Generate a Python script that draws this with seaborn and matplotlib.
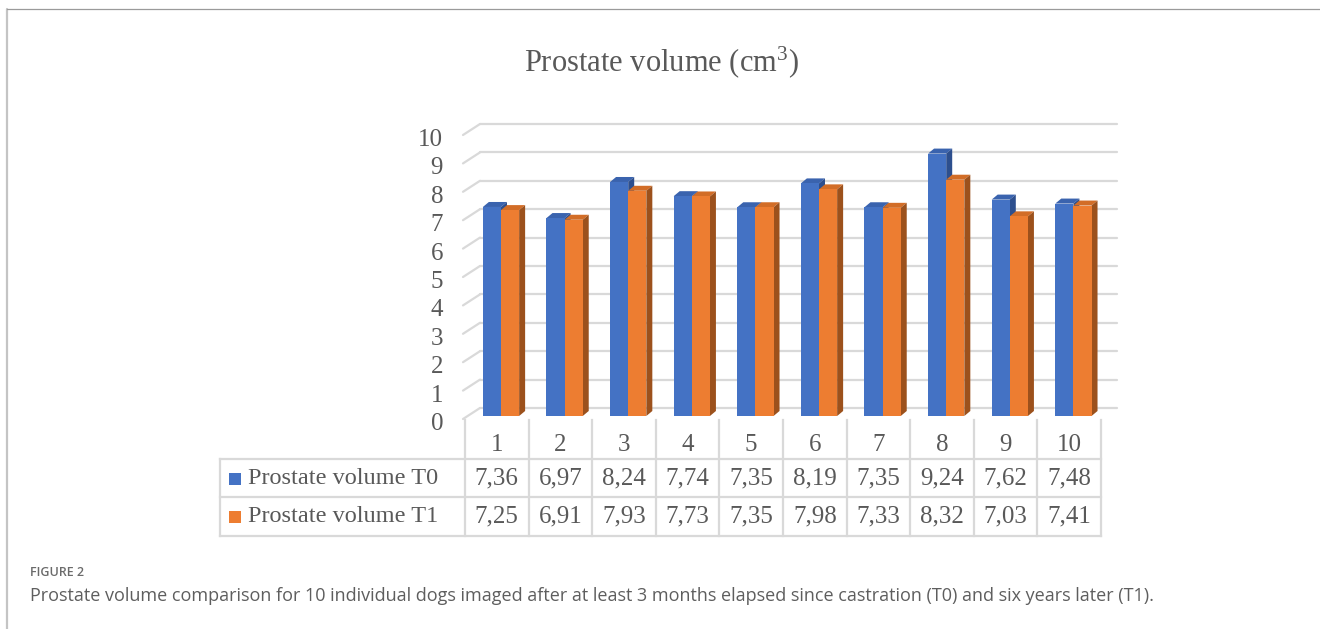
import matplotlib
matplotlib.use("Agg")
import matplotlib.pyplot as plt
import matplotlib.transforms as mtransforms
from matplotlib.lines import Line2D
from matplotlib.patches import Polygon, Rectangle
import seaborn as sns
import pandas as pd

# ---- data ---------------------------------------------------------------
dogs = ["1", "2", "3", "4", "5", "6", "7", "8", "9", "10"]
volume_t0 = [7.36, 6.97, 8.24, 7.74, 7.35, 8.19, 7.35, 9.24, 7.62, 7.48]
volume_t1 = [7.25, 6.91, 7.93, 7.73, 7.35, 7.98, 7.33, 8.32, 7.03, 7.41]
series_names = ["Prostate volume T0", "Prostate volume T1"]
y_ticks = [0, 1, 2, 3, 4, 5, 6, 7, 8, 9, 10]
title = "Prostate volume (cm$^{3}$)"
fig_label = "FIGURE 2"
caption = ("Prostate volume comparison for 10 individual dogs imaged after at least "
           "3 months elapsed since castration (T0) and six years later (T1).")

# ---- style --------------------------------------------------------------
sns.set_theme(style="white")
plt.rcParams["font.family"] = ["Liberation Serif", "DejaVu Serif"]
plt.rcParams["mathtext.fontset"] = "custom"
plt.rcParams["mathtext.rm"] = "Liberation Serif"
plt.rcParams["mathtext.it"] = "Liberation Serif:italic"
plt.rcParams["mathtext.bf"] = "Liberation Serif:bold"

W, H, DPI = 1320, 629, 100
TEXT = "#595959"
GRID = "#D9D9D9"
front_colors = ["#4472C4", "#ED7D31"]
top_colors = ["#3A63AE", "#D26D27"]
side_colors = ["#2D4F8E", "#9C511C"]
FS = 17.5


def fx(px):
    return px / W


def fy(py):
    return 1 - py / H


fig = plt.figure(figsize=(W / DPI, H / DPI), dpi=DPI)


def px_shift(dx, dy):
    # translation in pixels (dy positive = upward on screen)
    return mtransforms.ScaledTranslation(dx / DPI, dy / DPI, fig.dpi_scale_trans)


# ---- bar axes (front plane of the columns) ------------------------------
ax_left, ax_right = 469.2, 1105.2
ax_bottom, ax_top = 416, 132
ax = fig.add_axes([fx(ax_left), fy(ax_bottom), fx(ax_right - ax_left),
                   (ax_bottom - ax_top) / H])

df = pd.DataFrame({
    "dog": dogs * 2,
    "volume": volume_t0 + volume_t1,
    "series": [series_names[0]] * len(dogs) + [series_names[1]] * len(dogs),
})
sns.barplot(data=df, x="dog", y="volume", hue="series", order=dogs,
            hue_order=series_names, palette=front_colors, saturation=1,
            width=0.57, gap=0, legend=False, ax=ax, zorder=5,
            linewidth=0, edgecolor="none")

ax.set_xlim(-0.5, len(dogs) - 0.5)
ax.set_ylim(0, 10)
ax.set_xlabel("")
ax.set_ylabel("")
ax.set_xticks([])
ax.set_yticks([])
for s in ax.spines.values():
    s.set_visible(False)
ax.patch.set_alpha(0)

# pixel -> data unit factors for the 3-D faces
x_per_px = (len(dogs)) / (ax_right - ax_left)
y_per_px = 10 / (ax_bottom - ax_top)
depth_dx, depth_dy = 6 * x_per_px, 5 * y_per_px

# side and top faces of each column
n = len(dogs)
for k, patch in enumerate(ax.patches[: 2 * n]):
    hue_idx = k // n
    x0, w = patch.get_x(), patch.get_width()
    h = patch.get_height()
    x1 = x0 + w
    top = Polygon([(x0, h), (x1, h), (x1 + depth_dx, h + depth_dy),
                   (x0 + depth_dx, h + depth_dy)], closed=True,
                  facecolor=top_colors[hue_idx], edgecolor="none",
                  zorder=3 + hue_idx, clip_on=False)
    side = Polygon([(x1, 0), (x1 + depth_dx, depth_dy),
                    (x1 + depth_dx, h + depth_dy), (x1, h)], closed=True,
                   facecolor=side_colors[hue_idx], edgecolor="none",
                   zorder=3 + hue_idx, clip_on=False)
    ax.add_patch(top)
    ax.add_patch(side)

# back wall gridlines with a receding left edge
blend = mtransforms.blended_transform_factory(ax.transAxes, ax.transData)
wall_left = (480 - ax_left) / (ax_right - ax_left)
wall_right = (1117 - ax_left) / (ax_right - ax_left)
edge_left = (463 - ax_left) / (ax_right - ax_left)
for v in y_ticks:
    ax.add_line(Line2D([wall_left, wall_right], [v, v], color=GRID, lw=1.6,
                       transform=blend + px_shift(0, 8), clip_on=False, zorder=1))
    # receding edge: from the front-left corner up to the wall
    p_front = blend.transform((edge_left, v)) + [0, -3]
    p_back = blend.transform((wall_left, v)) + [0, 8]
    ax.add_line(Line2D([p_front[0], p_back[0]], [p_front[1], p_back[1]],
                       color=GRID, lw=1.6, transform=None, clip_on=False, zorder=1))
    ax.text((443 - ax_left) / (ax_right - ax_left), v, str(v),
            transform=blend + px_shift(0, -8), ha="right", va="center",
            fontsize=18, color=TEXT)

# ---- data table under the chart ----------------------------------------
tb_left, tb_right, tb_top, tb_bottom = 220, 1101, 420, 536
col_px = (1101 - 465) / len(dogs)
legend_cols = (465 - tb_left) / col_px
axt = fig.add_axes([fx(tb_left), fy(tb_bottom), fx(tb_right - tb_left),
                    (tb_bottom - tb_top) / H])
axt.set_xlim(-legend_cols, len(dogs))
axt.set_ylim(0, 3)
axt.axis("off")

lkw = dict(color=GRID, lw=1.6, clip_on=False, solid_capstyle="projecting")
for yy in (0, 1, 2):
    axt.plot([-legend_cols, len(dogs)], [yy, yy], **lkw)
axt.plot([-legend_cols, -legend_cols], [0, 2], **lkw)
for i in range(len(dogs) + 1):
    axt.plot([i, i], [0, 3], **lkw)

for i, d in enumerate(dogs):
    axt.text(i + 0.5, 2.36, d, ha="center", va="center", fontsize=18, color=TEXT)
for r, (vals, name, col) in enumerate(zip([volume_t0, volume_t1], series_names,
                                          front_colors)):
    yc = 1.5 - r
    for i, v in enumerate(vals):
        axt.text(i + 0.5, yc, f"{v:.2f}".replace(".", ","), ha="center",
                 va="center", fontsize=18, color=TEXT)
    mk_w = 12 / col_px
    mk_h = 12 / ((tb_bottom - tb_top) / 3)
    axt.add_patch(Rectangle((-legend_cols + 9 / col_px, yc - mk_h / 2 - 0.02),
                            mk_w, mk_h, facecolor=col, edgecolor="none",
                            clip_on=False))
    axt.text(-legend_cols + 28 / col_px, yc, name, ha="left", va="center",
             fontsize=FS, color=TEXT)

# ---- title --------------------------------------------------------------
fig.text(fx(661), fy(62), title, ha="center", va="center", fontsize=22,
         color=TEXT)

# ---- surrounding frame and caption -------------------------------------
fig.add_artist(Line2D([fx(7), fx(7)], [fy(9), 0], color="#C4C4C4", lw=1.6,
                      transform=fig.transFigure))
fig.add_artist(Line2D([fx(7), 1], [fy(9), fy(9)], color="#9A9A9A", lw=0.9,
                      transform=fig.transFigure))
fig.text(fx(30), fy(573), fig_label, ha="left", va="center", fontsize=9,
         color="#6B6B6B", family=["Open Sans", "DejaVu Sans"], fontweight="semibold")
fig.text(fx(30), fy(596), caption, ha="left", va="center", fontsize=13,
         color="#5E5E5E", family=["Open Sans", "DejaVu Sans"])

fig.savefig("out.png", dpi=DPI, facecolor="white")
